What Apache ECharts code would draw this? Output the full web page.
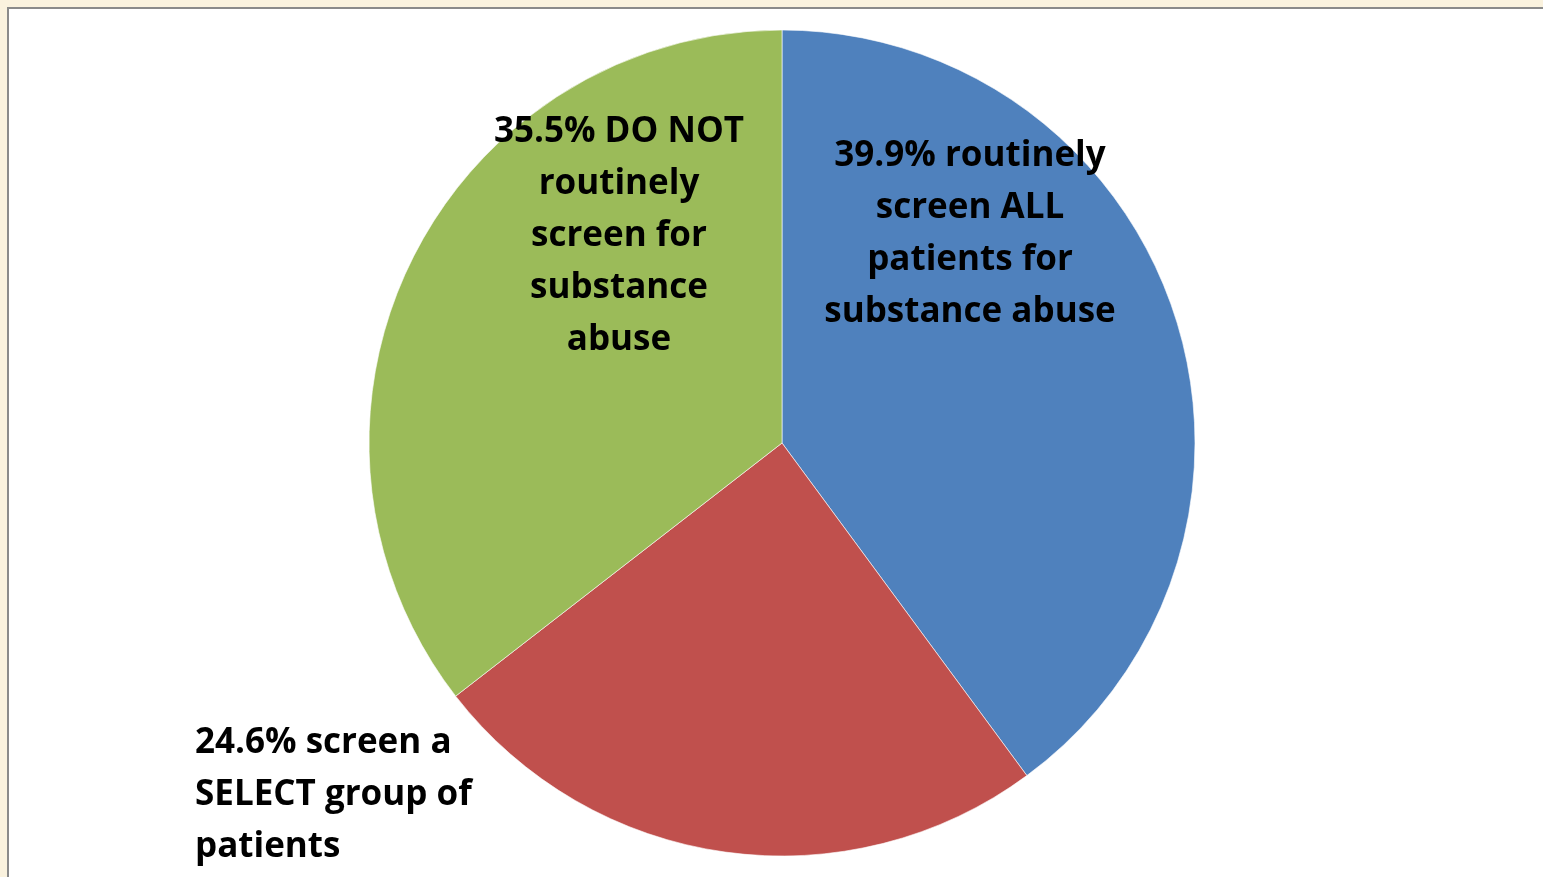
<!DOCTYPE html>
<html>
<head>
<meta charset="utf-8">
<script src="https://cdn.jsdelivr.net/npm/echarts@6/dist/echarts.min.js"></script>
<style>
html,body{margin:0;padding:0;background:#FAF2DE;}
#chart{width:1543px;height:877px;}
</style>
</head>
<body>
<div id="chart"></div>
<script>
const categories = [
  "39.9% routinely\nscreen ALL\npatients for\nsubstance abuse",
  "24.6% screen a\nSELECT group of\npatients",
  "35.5% DO NOT\nroutinely\nscreen for\nsubstance\nabuse"
];
const values = [39.9, 24.6, 35.5];
const colors = ["#4F81BD", "#C0504D", "#9BBB59"];

const cx = 782, cy = 443, R = 413;
const labelSpots = [
  {dx: 188, dy: -209, align: 'center'},
  {dx: -587, dy: 352, align: 'left'},
  {dx: -163, dy: -207, align: 'center'}
];

const chart = echarts.init(document.getElementById('chart'));
chart.setOption({
  backgroundColor: '#FAF2DE',
  animation: false,
  graphic: [{
    type: 'rect',
    z: -10,
    shape: {x: 8, y: 8, width: 1600, height: 900},
    style: {fill: '#ffffff', stroke: '#8a8a8a', lineWidth: 2}
  }],
  series: [{
    type: 'pie',
    center: [cx, cy],
    radius: R,
    startAngle: 90,
    clockwise: true,
    silent: true,
    itemStyle: {borderColor: 'rgba(255,255,255,0.6)', borderWidth: 1},
    label: {
      show: true,
      position: 'inside',
      formatter: p => p.name,
      color: '#000',
      fontFamily: '"Open Sans", Lato, sans-serif',
      fontWeight: 'bold',
      fontSize: 35,
      lineHeight: 52
    },
    labelLine: {show: false},
    labelLayout: function (params) {
      const s = labelSpots[params.dataIndex];
      return {
        x: cx + s.dx,
        y: cy + s.dy,
        align: s.align,
        verticalAlign: 'middle'
      };
    },
    data: categories.map((c, i) => ({
      name: c,
      value: values[i],
      itemStyle: {color: colors[i]},
      label: {align: labelSpots[i].align}
    }))
  }]
});
</script>
</body>
</html>
